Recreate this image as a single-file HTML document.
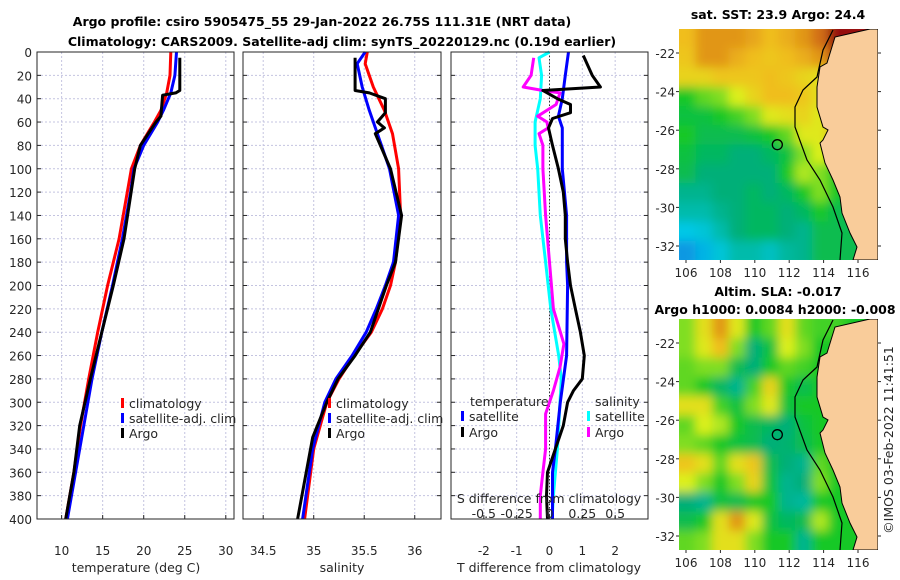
<!DOCTYPE html>
<html><head><meta charset="utf-8"><style>
body{margin:0;background:#fff}
svg{display:block;font-family:"DejaVu Sans","Liberation Sans",sans-serif}
.t{font-size:12.5px;font-weight:bold;fill:#000}
.tk{font-size:12px;fill:#262626}
.lg{font-size:12.5px;fill:#262626}
</style></head><body>
<svg id="c" width="900" height="580" viewBox="0 0 900 580" xmlns="http://www.w3.org/2000/svg">
<defs><filter id="bl" x="-10%" y="-10%" width="120%" height="120%"><feGaussianBlur stdDeviation="5" edgeMode="duplicate"/></filter></defs>
<text class="t" x="322" y="26" text-anchor="middle">Argo profile: csiro 5905475_55 29-Jan-2022 26.75S 111.31E (NRT data)</text>
<text class="t" x="342" y="46" text-anchor="middle">Climatology: CARS2009. Satellite-adj clim: synTS_20220129.nc (0.19d earlier)</text>
<g id="g"></g>
</svg>
<script>
// ---- data ----
const depthTicks=[0,20,40,60,80,100,120,140,160,180,200,220,240,260,280,300,320,340,360,380,400];
const tTicks=[10,15,20,25,30];
const sTicks=[34.5,35,35.5,36];
const dTicks=[-2,-1,0,1,2];
const sdTicks=[-0.5,-0.25,0,0.25,0.5];
const tClimDepth=[0,20,35,50,60,80,100,120,160,200,240,280,320,360,400];
const tClim=[23.3,23.2,22.8,22.1,21.3,19.6,18.5,18.0,17.0,15.6,14.4,13.3,12.3,11.5,10.5];
const tSat=[24.0,23.8,23.3,22.4,21.7,20.0,18.8,18.4,17.4,16.2,14.9,13.7,12.7,11.7,10.7];
const tArgoDepth=[5,33,35,37,55,60,80,100,160,200,240,280,320,360,400];
const tArgo=[24.4,24.4,23.9,22.3,22.1,21.5,19.6,18.9,17.6,16.3,14.9,13.5,12.2,11.5,10.5];
const sClimDepth=[0,10,30,50,70,100,140,180,200,220,240,260,280,300,340,400];
const sClim=[35.53,35.51,35.59,35.70,35.78,35.84,35.86,35.81,35.76,35.68,35.57,35.40,35.25,35.13,35.0,34.91];
const sSat=[35.51,35.43,35.48,35.55,35.63,35.75,35.84,35.79,35.71,35.62,35.52,35.38,35.22,35.11,34.99,34.89];
const sArgoDepth=[5,33,35,40,52,60,65,70,78,100,140,180,200,240,260,280,300,330,400];
const sArgo=[35.41,35.41,35.55,35.71,35.71,35.63,35.70,35.61,35.65,35.76,35.87,35.81,35.72,35.56,35.41,35.24,35.13,34.99,34.84];
const dtArgoDepth=[3,20,30,33,40,45,52,57,65,80,100,120,140,160,180,200,220,240,260,280,290,300,320,340,360,380,400];
const dtArgo=[1.03,1.3,1.55,-0.2,0.24,0.64,0.64,0.09,-0.03,0.09,0.27,0.42,0.48,0.48,0.55,0.64,0.79,0.94,1.06,1.0,0.73,0.55,0.42,0.18,-0.06,-0.09,-0.06];
const dtSatDepth=[0,20,40,55,65,100,140,180,200,260,300,340,360,400];
const dtSat=[0.58,0.48,0.39,0.27,0.39,0.39,0.52,0.52,0.55,0.52,0.33,0.18,0.09,0.09];
const dsSatDepth=[0,5,20,40,60,80,100,140,180,220,260,280,300,340,380,400];
const dsSat=[0,-0.08,-0.06,-0.07,-0.11,-0.11,-0.09,-0.07,-0.03,0.01,0.07,0.09,0.08,0.06,0.03,0.02];
const dsArgoDepth=[5,20,30,33,35,45,55,60,65,70,80,100,140,180,220,250,270,290,310,340,360,380,400];
const dsArgo=[-0.12,-0.14,-0.2,-0.05,0.08,0.05,-0.09,-0.02,-0.01,-0.08,-0.05,-0.05,-0.03,0,0.03,0.11,0.08,0.03,-0.03,-0.03,-0.05,-0.07,-0.07];
const lonTicks=[106,108,110,112,114,116];
const latTicks=[-22,-24,-26,-28,-30,-32];
const sstGrid=[
[.8,.85,.85,.85,.83,.8,.82,.85,.9,1,1,1],
[.78,.85,.85,.82,.8,.78,.8,.82,.85,.95,.95,.95],
[.75,.75,.78,.78,.78,.8,.78,.75,.72,.72,.7,.7],
[.55,.6,.62,.68,.75,.8,.8,.78,.72,.75,.7,.7],
[.52,.52,.55,.58,.62,.7,.72,.75,.7,.8,.8,.8],
[.55,.5,.5,.5,.52,.55,.6,.7,.7,.85,.8,.8],
[.52,.48,.48,.45,.45,.48,.52,.62,.68,.6,.6,.6],
[.5,.45,.45,.45,.45,.45,.55,.65,.62,.55,.5,.5],
[.42,.42,.45,.45,.48,.45,.48,.55,.62,.55,.5,.5],
[.38,.38,.42,.45,.48,.48,.45,.48,.55,.5,.5,.5],
[.3,.32,.38,.45,.48,.48,.45,.42,.5,.5,.5,.5],
[.18,.25,.32,.38,.38,.35,.4,.42,.5,.5,.5,.5]];
const slaGrid=[
[.62,.72,.85,.7,.55,.6,.72,.6,.58,.58,.55,.55],
[.62,.7,.8,.62,.45,.52,.68,.62,.55,.55,.55,.55],
[.6,.62,.62,.5,.45,.55,.6,.58,.55,.55,.55,.55],
[.6,.55,.48,.42,.58,.75,.55,.5,.55,.55,.55,.55],
[.72,.72,.58,.52,.62,.7,.52,.55,.55,.55,.55,.55],
[.6,.68,.65,.55,.5,.48,.45,.52,.55,.55,.55,.55],
[.62,.6,.55,.52,.5,.45,.46,.5,.55,.55,.55,.55],
[.78,.72,.6,.72,.78,.5,.45,.42,.6,.55,.55,.55],
[.68,.62,.55,.62,.75,.52,.42,.45,.62,.55,.55,.55],
[.45,.42,.52,.5,.55,.55,.42,.4,.55,.55,.55,.55],
[.5,.55,.72,.85,.7,.52,.48,.5,.65,.55,.55,.55],
[.6,.62,.72,.72,.62,.55,.55,.42,.55,.55,.55,.55]];
// ---- drawing ----
const NS="http://www.w3.org/2000/svg",G=document.getElementById('g');
function mk(t,a,p){const e=document.createElementNS(NS,t);for(const k in a)e.setAttribute(k,a[k]);(p||G).appendChild(e);return e;}
const Y0=52,Y1=519,yD=d=>Y0+d*(Y1-Y0)/400;
const P=[{x0:37,x1:234,lo:7,hi:31},{x0:243,x1:441,lo:34.3,hi:36.26},{x0:451,x1:648,lo:-3,hi:3}];
const sx=(p,v)=>p.x0+(v-p.lo)*(p.x1-p.x0)/(p.hi-p.lo);
const sdx=v=>sx(P[2],v*4);
function grid(p,ticks,name){
  ticks.forEach(v=>{const x=sx(p,v);const l=mk('line',{x1:x,x2:x,y1:Y0,y2:Y1,stroke:'#c4c4e0','stroke-width':1,'stroke-dasharray':'2,2'});
  
  mk('line',{x1:x,x2:x,y1:Y1,y2:Y1-4,stroke:'#262626'});});
  depthTicks.forEach(d=>{const y=yD(d);const l=mk('line',{x1:p.x0,x2:p.x1,y1:y,y2:y,stroke:'#c4c4e0','stroke-width':1,'stroke-dasharray':'2,2'});
  
  mk('line',{x1:p.x0,x2:p.x0+4,y1:y,y2:y,stroke:'#262626'});mk('line',{x1:p.x1,x2:p.x1-4,y1:y,y2:y,stroke:'#262626'});});
}
function frame(p,name){const r=mk('rect',{x:p.x0,y:Y0,width:p.x1-p.x0,height:Y1-Y0,fill:'none',stroke:'#262626','stroke-width':1});
}
function line(xf,ds,vs,col,name,w){let d='';ds.forEach((z,i)=>{d+=(i?'L':'M')+xf(vs[i]).toFixed(1)+','+yD(z).toFixed(1);});
const e=mk('path',{d:d,fill:'none',stroke:col,'stroke-width':w||3,'stroke-linejoin':'round'});
}
function text(x,y,s,cls,anc,name){const e=mk('text',{x:x,y:y,class:cls,'text-anchor':anc||'middle'});e.textContent=s;
return e;}
grid(P[0],tTicks,'temp');grid(P[1],sTicks,'sal');grid(P[2],dTicks,'tdiff');
depthTicks.forEach(d=>text(32,yD(d)+5,String(d),'tk','end','depth-tick-label'));
tTicks.forEach(v=>text(sx(P[0],v),555,String(v),'tk','middle','temp-tick-label'));
sTicks.forEach(v=>text(sx(P[1],v),555,String(v),'tk','middle','sal-tick-label'));
dTicks.forEach(v=>text(sx(P[2],v),555,String(v),'tk','middle','tdiff-tick-label'));
text(136,572,'temperature (deg C)','lg','middle','temp-x-axis-title');
text(342,572,'salinity','lg','middle','sal-x-axis-title');
text(549,572,'T difference from climatology','lg','middle','tdiff-x-axis-title');
const z=mk('line',{x1:sx(P[2],0),x2:sx(P[2],0),y1:Y0,y2:Y1,stroke:'#333','stroke-dasharray':'1.5,2'});

const x0=v=>sx(P[0],v),x1=v=>sx(P[1],v),x2=v=>sx(P[2],v);
line(x0,tClimDepth,tClim,'#f00','temp-climatology-line');
line(x0,tClimDepth,tSat,'#00f','temp-satellite-line');
line(x0,tArgoDepth,tArgo,'#000','temp-argo-line');
line(x1,sClimDepth,sClim,'#f00','sal-climatology-line');
line(x1,sClimDepth,sSat,'#00f','sal-satellite-line');
line(x1,sArgoDepth,sArgo,'#000','sal-argo-line');
line(sdx,dsSatDepth,dsSat,'#0ff','sdiff-satellite-line');
line(sdx,dsArgoDepth,dsArgo,'#f0f','sdiff-argo-line');
line(x2,dtSatDepth,dtSat,'#00f','tdiff-satellite-line');
line(x2,dtArgoDepth,dtArgo,'#000','tdiff-argo-line');
text(549,503,'S difference from climatology','lg','middle','sdiff-axis-title');
sdTicks.forEach(v=>text(sdx(v),518,String(v),'lg','middle','sdiff-tick-label'));
frame(P[0],'temperature-panel');frame(P[1],'salinity-panel');frame(P[2],'difference-panel');
function leg(x,y,col,s,name){const r=mk('rect',{x:x,y:y-10,width:3,height:10,fill:col});
text(x+8,y,s,'lg','start',name);}
[121,328].forEach(x=>{leg(x,408,'#f00','climatology','legend-climatology');leg(x,423,'#00f','satellite-adj. clim','legend-satellite');leg(x,438,'#000','Argo','legend-argo');});
text(470,406,'temperature','lg','start','legend-temperature-header');
leg(461,421,'#00f','satellite','legend-t-satellite');leg(461,437,'#000','Argo','legend-t-argo');
text(595,406,'salinity','lg','start','legend-salinity-header');
leg(587,421,'#0ff','satellite','legend-s-satellite');leg(587,437,'#f0f','Argo','legend-s-argo');
// ---- maps ----
function jet(v){const stops=[[0,[20,80,220]],[.3,[0,200,230]],[.45,[0,175,120]],[.55,[20,200,40]],[.68,[220,240,30]],[.8,[240,190,30]],[.9,[210,110,20]],[1,[150,10,10]]];
for(let i=1;i<stops.length;i++){if(v<=stops[i][0]){const a=stops[i-1],b=stops[i],t=(v-a[0])/(b[0]-a[0]);
return 'rgb('+a[1].map((c,k)=>Math.round(c+(b[1][k]-c)*t)).join(',')+')';}}return 'rgb(150,10,10)';}
function map(oy,gridv,name,title1){
  const mx0=679,mx1=878,my0=oy,my1=oy+231;
  const lx=lon=>686+(lon-106)*17.2,ly=lat=>oy+24+(-22-lat)*19.3;
  const gEl=mk('g',{});
  const cp=mk('clipPath',{id:'cp'+oy},gEl);mk('rect',{x:mx0,y:my0,width:mx1-mx0,height:my1-my0},cp);
  const inner=mk('g',{'clip-path':'url(#cp'+oy+')'},gEl);
  const cells=mk('g',{filter:'url(#bl)'},inner);
  const cw=(mx1-mx0)/12,ch=(my1-my0)/12;
  gridv.forEach((row,r)=>row.forEach((v,c)=>{const e=mk('rect',{x:mx0+c*cw-(c==0?10:0),y:my0+r*ch-(r==0?10:0),width:cw+0.6+(c==0||c==11?10:0),height:ch+0.6+(r==0||r==11?10:0),fill:jet(v)},cells);
  }));
  const pts=[[870,29],[835,37],[827,63],[820,67],[817,87],[817,107],[823,127],[828,130],[823,140],[820,143],[825,163],[833,180],[840,197],[842,213],[850,233],[857,247],[853,260],[878,260],[878,29]];
  const land=mk('polygon',{points:pts.map(p=>p[0]+','+(p[1]-29+oy)).join(' '),fill:'#f9cc9a',stroke:'#000','stroke-width':1},inner);
  
  const sh=[[833,30],[823,50],[817,77],[803,90],[795,107],[795,127],[807,160],[820,180],[833,207],[842,233],[840,260]];
  const s=mk('polyline',{points:sh.map(p=>p[0]+','+(p[1]-29+oy)).join(' '),fill:'none',stroke:'#000','stroke-width':1.2},inner);
  
  const ci=mk('circle',{cx:lx(111.31),cy:ly(-26.75),r:5,fill:'none',stroke:'#000','stroke-width':1.3},gEl);
  
  latTicks.forEach(l=>{const y=ly(l);mk('line',{x1:mx0,x2:mx0-3,y1:y,y2:y,stroke:'#262626'});mk('line',{x1:mx1,x2:mx1+3,y1:y,y2:y,stroke:'#262626'});
  text(675,y+5,String(l),'tk','end','lat-tick-label');});
  lonTicks.forEach(l=>{const x=lx(l);mk('line',{x1:x,x2:x,y1:my1,y2:my1+3,stroke:'#262626'});text(x,my1+17,String(l),'tk','middle','lon-tick-label');});
  return text(778,oy-10,title1,'t','middle',name+'-title');
}
map(29,sstGrid,'sst-map','sat. SST: 23.9 Argo: 24.4');
const t2=map(319,slaGrid,'sla-map','Altim. SLA: -0.017');
t2.setAttribute('y',296);
text(775,314,'Argo h1000: 0.0084 h2000: -0.008','t','middle','sla-map-subtitle');
const cr=text(893,440,'©IMOS 03-Feb-2022 11:41:51','lg','middle','copyright-timestamp');
cr.setAttribute('transform','rotate(-90 893 440)');
</script>
</body></html>
